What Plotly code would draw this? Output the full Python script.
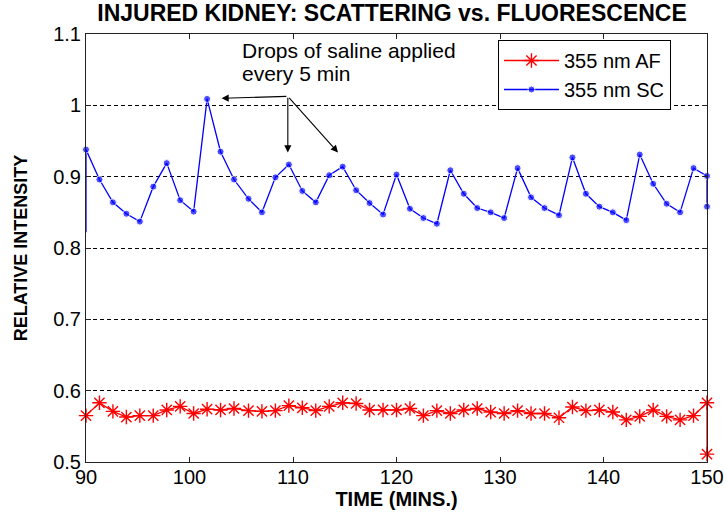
import plotly.graph_objects as go

# ---- data ----
time_min = [90.0, 91.3, 92.6, 93.9, 95.2, 96.5, 97.8, 99.1, 100.4, 101.7,
            103.0, 104.3, 105.7, 107.0, 108.3, 109.6, 110.9, 112.2, 113.5, 114.8,
            116.1, 117.4, 118.7, 120.0, 121.3, 122.6, 123.9, 125.2, 126.5, 127.8,
            129.1, 130.4, 131.7, 133.0, 134.3, 135.7, 137.0, 138.3, 139.6, 140.9,
            142.2, 143.5, 144.8, 146.1, 147.4, 148.7, 150.0]

sc_values = [0.938, 0.896, 0.864, 0.848, 0.837, 0.886, 0.919, 0.867, 0.851, 1.009,
             0.935, 0.896, 0.869, 0.850, 0.899, 0.917, 0.880, 0.864, 0.902, 0.914,
             0.881, 0.863, 0.847, 0.903, 0.855, 0.842, 0.834, 0.909, 0.876, 0.856,
             0.850, 0.842, 0.912, 0.871, 0.856, 0.846, 0.927, 0.876, 0.858, 0.850,
             0.839, 0.931, 0.890, 0.862, 0.850, 0.912, 0.901]
sc_start_value = 0.822   # extra sample drawn at t = 90 (no visible marker)
sc_end_value = 0.858     # extra sample at t = 150

af_values = [0.565, 0.583, 0.571, 0.563, 0.565, 0.565, 0.573, 0.578, 0.568, 0.574,
             0.573, 0.575, 0.572, 0.571, 0.572, 0.579, 0.576, 0.572, 0.578, 0.583,
             0.582, 0.573, 0.573, 0.573, 0.575, 0.565, 0.572, 0.568, 0.573, 0.575,
             0.570, 0.568, 0.572, 0.568, 0.568, 0.562, 0.577, 0.572, 0.573, 0.570,
             0.559, 0.564, 0.573, 0.564, 0.559, 0.565, 0.583]
af_end_value = 0.511     # extra sample at t = 150

x_ticks = [90, 100, 110, 120, 130, 140, 150]
y_ticks = [0.5, 0.6, 0.7, 0.8, 0.9, 1.0, 1.1]
y_tick_labels = ["0.5", "0.6", "0.7", "0.8", "0.9", "1", "1.1"]

series_names = ["355 nm AF", "355 nm SC"]
title_text = "INJURED KIDNEY: SCATTERING vs. FLUORESCENCE"
x_title = "TIME (MINS.)"
y_title = "RELATIVE INTENSITY"
note_lines = ["Drops of saline applied", "every 5 min"]

# ---- build series ----
sc_x = [time_min[0]] + time_min + [time_min[-1]]
sc_y = [sc_start_value] + sc_values + [sc_end_value]
sc_sizes = [0] + [7] * (len(sc_values) + 1)

af_x = time_min + [time_min[-1]]
af_y = af_values + [af_end_value]

FONT = "Liberation Sans, Arial, sans-serif"

fig = go.Figure()
fig.add_trace(go.Scatter(
    x=af_x, y=af_y, name=series_names[0], mode="lines+markers",
    line=dict(color="#ff0000", width=1.3),
    marker=dict(symbol="asterisk-open", size=12, color="#ff0000",
                line=dict(color="#ff0000", width=1.4)),
    cliponaxis=False,
))
fig.add_trace(go.Scatter(
    x=sc_x, y=sc_y, name=series_names[1], mode="lines+markers",
    line=dict(color="#0000ff", width=1.3),
    marker=dict(symbol="circle", size=sc_sizes, color="#0000ff"),
    cliponaxis=False,
))

axis_common = dict(
    showline=True, linecolor="#222222", linewidth=1, mirror="ticks",
    ticks="inside", ticklen=5, tickcolor="#222222", tickwidth=1,
    tickfont=dict(family=FONT, size=20, color="black"),
    zeroline=False, automargin=False,
)

fig.update_xaxes(
    range=[90, 150], tickvals=x_ticks, showgrid=False, ticklabelstandoff=-3,
    title=dict(text="<b>" + x_title + "</b>", font=dict(family=FONT, size=20, color="black"),
               standoff=0),
    **axis_common,
)
fig.update_yaxes(
    range=[0.5, 1.1], tickvals=y_ticks, ticktext=y_tick_labels,
    showgrid=True, gridcolor="black", gridwidth=1, griddash="4px,3px",
    title=dict(text="<b>" + y_title + "</b>", font=dict(family=FONT, size=18, color="black"),
               standoff=20),
    **axis_common,
)

# annotation text (two lines) and arrows
note_positions = [(105.0, 1.094), (105.0, 1.062)]
for line_text, (nx, ny) in zip(note_lines, note_positions):
    fig.add_annotation(
        x=nx, y=ny, xref="x", yref="y", xanchor="left", yanchor="top",
        text=line_text, showarrow=False, align="left", borderpad=0,
        font=dict(family=FONT, size=21, color="black"),
    )
arrow_tail = (109.5, 1.0126)
arrow_tips = [(103.1, 1.0098), (109.5, 0.934), (114.35, 0.934)]
for tx, ty in arrow_tips:
    fig.add_annotation(
        x=tx, y=ty, ax=arrow_tail[0], ay=arrow_tail[1],
        xref="x", yref="y", axref="x", ayref="y",
        text="", showarrow=True, arrowhead=2, arrowsize=1.3,
        arrowwidth=1.1, arrowcolor="black", standoff=0, startstandoff=0,
    )

fig.update_layout(
    width=726, height=516,
    margin=dict(l=86, r=19, t=34, b=54, autoexpand=False),
    paper_bgcolor="white", plot_bgcolor="white",
    font=dict(family=FONT, color="black"),
    title=dict(text="<b>" + title_text + "</b>", x=0.54, xanchor="center",
               y=0.975, yanchor="middle",
               font=dict(family=FONT, size=23, color="black")),
    legend=dict(x=0.6634, y=0.986, xanchor="left", yanchor="top",
                bgcolor="white", bordercolor="black", borderwidth=1,
                font=dict(family=FONT, size=20, color="black"),
                itemwidth=55, tracegroupgap=0),
    showlegend=True,
)

fig.write_html("out.html", config={"displayModeBar": False},
               post_script="document.body.style.margin='0';")
